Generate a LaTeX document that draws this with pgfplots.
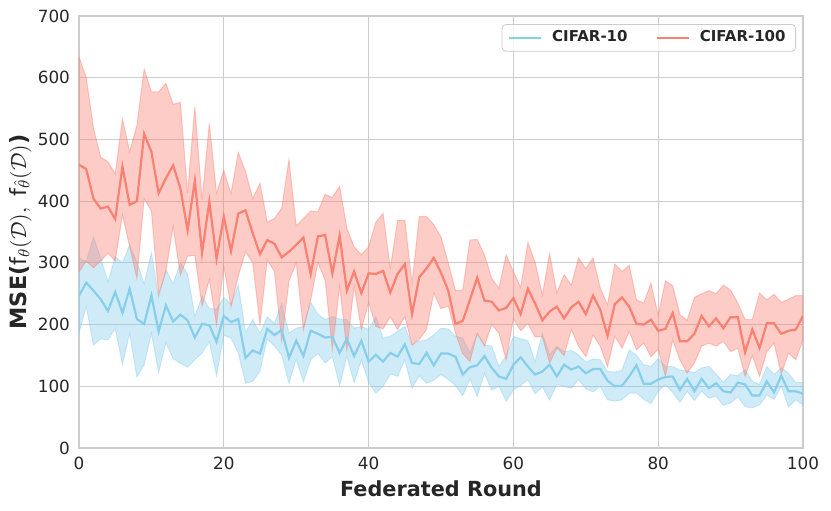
\documentclass[border=0pt]{standalone}
\usepackage{fontspec}
\setmainfont{DejaVu Sans}
\usepackage{pgfplots}
\pgfplotsset{compat=1.18}
\usepgfplotslibrary{fillbetween}
\usepackage{pgfplotstable}

\definecolor{cblue}{HTML}{87CEEB}
\definecolor{cred}{HTML}{FA8072}
\definecolor{gridc}{HTML}{CCCCCC}
\definecolor{txt}{HTML}{262626}

\pgfplotstableread{
x bm bl bu rm rl ru
0 247 187 308 459 285 634
1 268 229 302 452 303 600
2 255 167 342 404 292 518
3 241 177 308 388 303 471
4 222 175 269 391 316 464
5 253 194 310 371 303 444
6 219 136 300 456 378 533
7 258 186 329 394 326 480
8 209 115 301 400 275 523
9 201 135 266 509 404 614
10 247 186 316 480 384 577
11 189 123 244 413 248 577
12 231 171 289 437 286 591
13 205 145 266 458 359 557
14 216 137 300 421 280 560
15 207 131 282 353 311 413
16 179 143 213 433 312 553
17 201 154 246 316 230 402
18 199 172 226 399 273 526
19 172 118 225 307 200 413
20 214 183 244 375 294 450
21 204 178 233 319 229 412
22 209 154 264 380 279 479
23 146 105 187 385 318 448
24 158 108 208 348 300 404
25 153 125 186 314 200 429
26 193 177 212 337 305 366
27 183 165 202 331 286 372
28 191 151 234 309 173 389
29 146 105 186 318 270 467
30 174 144 194 329 300 360
31 149 107 197 341 192 372
32 190 143 236 282 240 384
33 185 153 217 343 300 383
34 179 138 208 345 272 411
35 180 148 213 283 160 406
36 154 101 209 344 262 424
37 177 149 208 255 158 356
38 149 106 194 286 263 326
39 174 143 197 251 192 313
40 140 106 192 283 236 326
41 151 89 213 282 197 366
42 140 100 178 287 193 380
43 154 120 181 252 213 291
44 148 116 189 282 192 369
45 168 143 197 298 213 369
46 138 97 167 217 167 267
47 136 117 173 277 176 375
48 154 105 175 291 192 375
49 134 110 183 308 251 362
50 153 119 194 284 226 342
51 153 111 193 255 230 300
52 148 101 181 201 186 255
53 119 85 178 206 153 256
54 131 112 154 240 140 337
55 134 84 185 276 186 338
56 149 121 167 239 165 313
57 130 94 165 237 200 275
58 116 100 132 223 186 259
59 112 76 149 227 143 313
60 135 94 181 243 210 286
61 147 101 177 217 190 260
62 132 111 174 258 202 333
63 119 88 140 234 180 301
64 124 99 186 207 180 248
65 135 78 151 221 138 315
66 116 103 165 229 162 251
67 135 100 156 210 150 281
68 127 97 158 228 192 264
69 132 111 151 237 165 308
70 121 96 139 217 148 291
71 128 91 144 247 183 308
72 128 100 143 224 165 259
73 109 78 124 182 132 232
74 100 76 123 233 181 298
75 101 78 126 244 162 286
76 116 89 159 229 189 296
77 134 89 150 201 159 240
78 104 79 135 200 170 235
79 104 72 132 208 148 267
80 111 92 145 190 160 215
81 115 103 132 193 116 271
82 116 90 132 219 175 263
83 94 74 126 173 143 216
84 112 92 125 173 121 207
85 92 77 122 185 138 244
86 112 92 130 214 165 250
87 97 81 132 197 170 255
88 105 84 120 210 165 250
89 92 69 106 194 173 264
90 90 73 119 212 156 256
91 106 83 117 212 162 235
92 103 67 127 155 116 208
93 85 65 108 192 150 208
94 85 70 103 162 116 251
95 108 86 132 202 156 240
96 90 79 119 202 170 249
97 117 100 130 185 120 236
98 92 67 121 190 154 241
99 92 78 106 192 143 247
100 88 70 106 214 175 247
}\data

\begin{document}
\begin{tikzpicture}
\begin{axis}[
  at={(0pt,0pt)}, anchor=south west,
  width=362pt, height=216pt, scale only axis,
  xmin=0, xmax=100, ymin=0, ymax=700,
  xtick={0,20,...,100}, ytick={0,100,...,700},
  grid=major,
  major grid style={gridc, line width=0.6pt},
  axis line style={gridc, line width=0.6pt},
  major tick length=0pt,
  tick style={draw=none},
  /pgf/number format/assume math mode=true,
  ticklabel style={font=\fontsize{8.4}{10}\selectfont, text=txt},
  xticklabel style={yshift=-1pt},
  yticklabel style={xshift=-1pt},
  xlabel={Federated Round},
  xlabel style={at={(axis description cs:0.5,-0.095)}, anchor=center, font=\bfseries\fontsize{10.4}{12}\selectfont, text=txt},
  ylabel={{\bfseries MSE(}$\mathrm{f}_{\theta}(\mathcal{D}),\ \mathrm{f}_{\hat{\theta}}(\mathcal{D})${\bfseries )}},
  ylabel style={at={(axis description cs:-0.081,0.5)}, anchor=center, font=\fontsize{11.2}{13}\selectfont, text=txt},
  legend columns=2,
  legend style={at={(1,1)}, anchor=north east, xshift=-3.5pt, yshift=-4pt,
    draw=gridc, rounded corners=2pt, fill=white, fill opacity=0.8, text opacity=1,
    font=\bfseries\fontsize{7.5}{9}\selectfont, text=txt,
    inner xsep=3pt, inner ysep=1.2pt,
    /tikz/every odd column/.append style={column sep=3pt},
    /tikz/every even column/.append style={column sep=12pt}},
  legend image code/.code={\draw[#1, line width=1.1pt] (0pt,0pt) -- (16pt,0pt);},
]
\addplot[name path=bu, draw=none, forget plot] table[x=x,y=bu]{\data};
\addplot[name path=bl, draw=none, forget plot] table[x=x,y=bl]{\data};
\addplot[fill=cblue, fill opacity=0.4, draw=cblue, draw opacity=0.4, line width=0.5pt, forget plot] fill between[of=bu and bl];
\addplot[cblue, line width=1.1pt] table[x=x,y=bm]{\data};
\addlegendentry{CIFAR-10}
\addplot[name path=ru, draw=none, forget plot] table[x=x,y=ru]{\data};
\addplot[name path=rl, draw=none, forget plot] table[x=x,y=rl]{\data};
\addplot[fill=cred, fill opacity=0.4, draw=cred, draw opacity=0.4, line width=0.5pt, forget plot] fill between[of=ru and rl];
\addplot[cred, line width=1.1pt] table[x=x,y=rm]{\data};
\addlegendentry{CIFAR-100}
\end{axis}
\pgfresetboundingbox
\useasboundingbox (-39.5pt,-31pt) rectangle (376pt,224pt);
\end{tikzpicture}
\end{document}
